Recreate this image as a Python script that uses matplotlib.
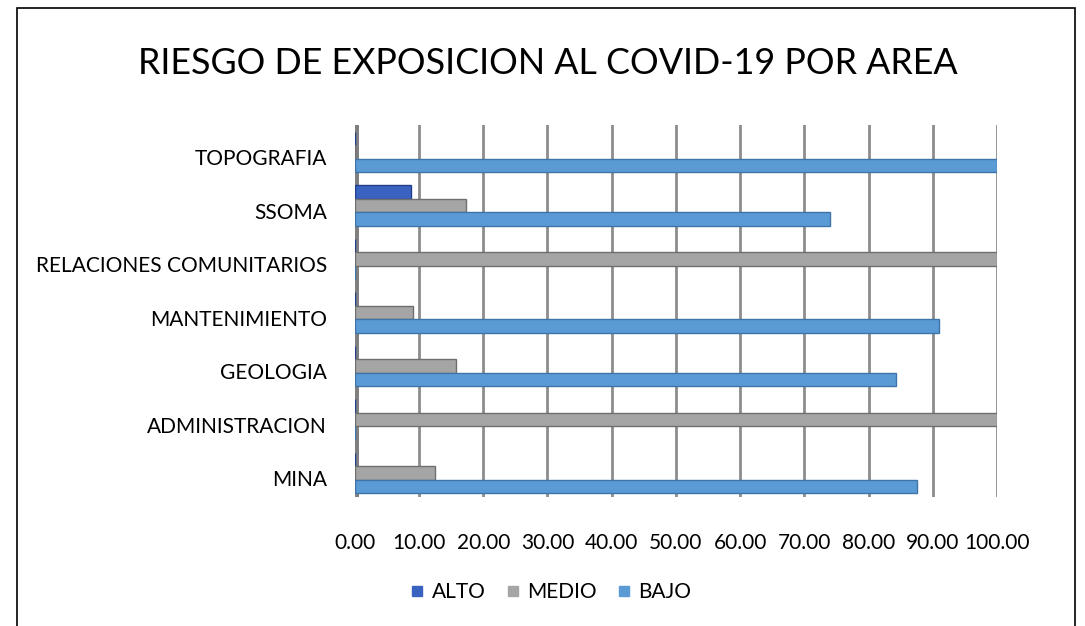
import numpy as np
import matplotlib.pyplot as plt
from matplotlib.patches import Rectangle
from matplotlib.lines import Line2D

# Areas (bottom to top, as drawn)
areas = ["MINA", "ADMINISTRACION", "GEOLOGIA", "MANTENIMIENTO",
         "RELACIONES COMUNITARIOS", "SSOMA", "TOPOGRAFIA"]
# Percent of staff per risk level
alto = [0.0, 0.0, 0.0, 0.0, 0.0, 8.70, 0.0]
medio = [12.50, 100.0, 15.79, 9.09, 100.0, 17.39, 0.0]
bajo = [87.50, 0.0, 84.21, 90.91, 0.0, 73.91, 100.0]
ticks = np.arange(0, 101, 10)

plt.rcParams['font.family'] = ['Lato', 'DejaVu Sans']

fig = plt.figure(figsize=(10.85, 6.26), dpi=100)
ax = fig.add_axes([0.327, 0.206, 0.592, 0.594])

y = np.arange(len(areas))
h = 0.25
series = [(alto, h, "#3A62C0", "#22408a", "ALTO"),
          (medio, 0.0, "#A5A5A5", "#6f6f6f", "MEDIO"),
          (bajo, -h, "#5B9BD5", "#3f74a8", "BAJO")]

# vertical grid lines (drawn behind bars)
for t in ticks:
    ax.axvline(t, color="#8c8c8c", lw=2, zorder=0)

handles = []
for vals, off, col, edge, lab in series:
    ax.barh(y + off, vals, height=h, color=col, edgecolor=edge,
            linewidth=1, zorder=3)
    handles.append(Line2D([], [], ls="none", marker="s", markersize=7.5,
                          markerfacecolor=col, markeredgecolor=col, label=lab))

ax.set_xlim(0, 100)
ax.set_ylim(-0.45, 6.5)
ax.set_xticks(ticks)
ax.set_xticklabels([f"{t:.2f}" for t in ticks])
ax.set_yticks(y - 0.1)
ax.set_yticklabels(areas)
ax.tick_params(axis="both", length=0, labelsize=15)
ax.tick_params(axis="x", pad=26)
ax.tick_params(axis="y", pad=20)
for s in ax.spines.values():
    s.set_visible(False)
ax.axvline(0, color="#7f7f7f", lw=5, zorder=1)

fig.suptitle("RIESGO DE EXPOSICION AL COVID-19 POR AREA", fontsize=25.8,
             y=0.925, x=0.505)

ax.legend(handles=handles, loc="center", bbox_to_anchor=(0.508, 0.054),
          bbox_transform=fig.transFigure, ncol=3, frameon=False,
          fontsize=15, handlelength=0.6, columnspacing=1.0, handletextpad=0.4)

# chart frame
fig.patches.append(Rectangle((0.016, -0.01), 0.975, 0.998, transform=fig.transFigure,
                             fill=False, edgecolor="black", lw=1.2))

fig.savefig("out.png", dpi=100)
